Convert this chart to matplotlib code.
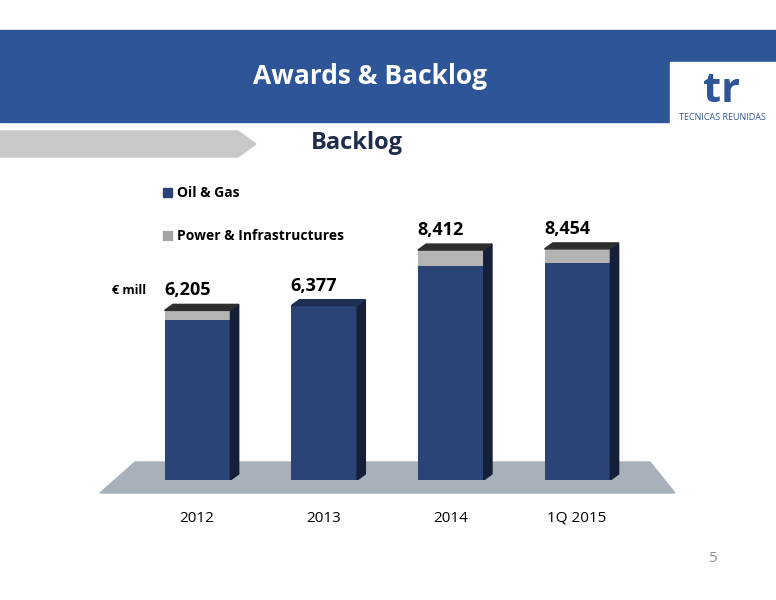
import matplotlib
matplotlib.use("Agg")
import matplotlib.pyplot as plt
from matplotlib.patches import Polygon, Rectangle

categories = ["2012", "2013", "2014", "1Q 2015"]
totals = [6205, 6377, 8412, 8454]
power = [365, 0, 585, 510]
oil = [t - p for t, p in zip(totals, power)]

plt.rcParams['font.family'] = ['Open Sans', 'DejaVu Sans']
fig = plt.figure(figsize=(7.76, 6.0), dpi=100)
bg = fig.add_axes([0, 0, 1, 1])
bg.set_xlim(0, 776); bg.set_ylim(600, 0); bg.axis('off')

# header
bg.add_patch(Rectangle((0, 30), 776, 92, color='#2E5597'))
bg.add_patch(Rectangle((670, 62), 106, 62, color='white'))
bg.text(722, 92, "tr", fontsize=30, fontweight='bold', color='#2E5597', ha='center', va='center')
bg.text(722, 118, "TECNICAS REUNIDAS", fontsize=6.5, color='#2E5597', ha='center', va='center')
bg.text(370, 76, "Awards & Backlog", fontsize=19, fontweight='bold', color='white', ha='center', va='center')
bg.add_patch(Polygon([(0, 131), (238, 131), (256, 144), (238, 157), (0, 157)], color='#C8C8C8'))
bg.text(357, 143, "Backlog", fontsize=17, fontweight='bold', color='#1F2D4D', ha='center', va='center')
# floor
bg.add_patch(Polygon([(100, 493), (675, 493), (650, 462), (135, 462)], color='#A8B0BA'))
# legend
bg.add_patch(Rectangle((163, 188), 9, 9, color='#2A4478'))
bg.text(177, 193, "Oil & Gas", fontsize=10, fontweight='bold', va='center')
bg.add_patch(Rectangle((163, 231), 9, 9, color='#A6A6A6'))
bg.text(177, 236, "Power & Infrastructures", fontsize=10, fontweight='bold', va='center')
bg.text(112, 291, "€ mill", fontsize=9, fontweight='bold', va='center')
bg.text(712, 558, "5", fontsize=11, color='#909090', ha='center', va='center')

ax = fig.add_axes([100/776, 0.2, 575/776, 0.41])
ax.patch.set_alpha(0)
ax.set_xlim(-0.77, 3.77); ax.set_ylim(0, 9000); ax.axis('off')
w = 0.52; dx = 0.065; dy = 220
for i, (o, p, t) in enumerate(zip(oil, power, totals)):
    ax.bar(i, o, width=w, color='#2A4478', zorder=3)
    if p:
        ax.bar(i, p, bottom=o, width=w, color='#B4B4B4', zorder=3)
    r = i + w/2
    ax.add_patch(Polygon([(r, 0), (r+dx, dy), (r+dx, t+dy), (r, t)], color='#141F38', zorder=3))
    l = i - w/2
    ax.add_patch(Polygon([(l, t), (l+dx, t+dy), (r+dx, t+dy), (r, t)], color='#2E2E2E' if p else '#1E2F55', zorder=3))
    ax.text(i - 0.08, t + 400, f"{t:,}", fontsize=13, fontweight='bold', ha='center', va='bottom')
    bg.text(197 + i*126.7, 518, categories[i], fontsize=11, ha='center', va='center')

fig.savefig("out.png", dpi=100)
